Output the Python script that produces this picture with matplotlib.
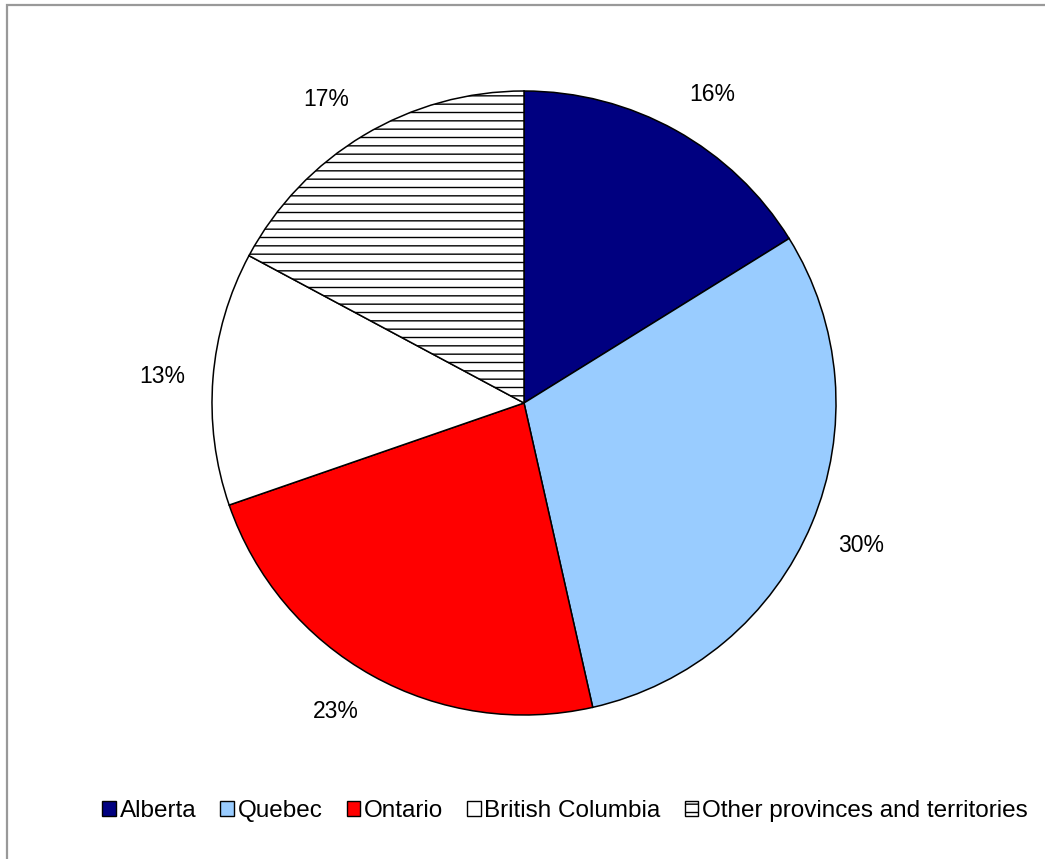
import numpy as np
import matplotlib
matplotlib.use("Agg")
import matplotlib.pyplot as plt
from matplotlib.patches import Patch, Rectangle

plt.rcParams["font.family"] = ["Liberation Sans", "DejaVu Sans"]
plt.rcParams["hatch.linewidth"] = 1.0

# share by province
provinces = ["Alberta", "Quebec", "Ontario", "British Columbia",
             "Other provinces and territories"]
shares = [16, 30, 23, 13, 17]
colors = ["#000080", "#99CCFF", "#FF0000", "#FFFFFF", "#FFFFFF"]
hatches = [None, None, None, None, "--"]

W, H = 1045, 859
fig = plt.figure(figsize=(W / 100, H / 100), dpi=100)

# pie centre (524, 403) px, radius 312 px
cx, cy, r = 524, 403, 312
ax = fig.add_axes([(cx - r) / W, (H - cy - r) / H, 2 * r / W, 2 * r / H])

wedges, _ = ax.pie(shares, colors=colors, startangle=90, counterclock=False,
                   radius=1, wedgeprops=dict(edgecolor="black", linewidth=1.1))
for w, h in zip(wedges, hatches):
    if h:
        w.set_hatch(h)
ax.set_xlim(-1, 1)
ax.set_ylim(-1, 1)
ax.axis("off")

# outside-end percentage labels
total = sum(shares)
for w, v in zip(wedges, shares):
    mid = np.deg2rad((w.theta1 + w.theta2) / 2)
    ux, uy = np.cos(mid), np.sin(mid)
    ha = "center" if abs(ux) < 0.3 else ("left" if ux > 0 else "right")
    va = "center" if abs(uy) < 0.3 else ("bottom" if uy > 0 else "top")
    d = 1.09
    ax.text(d * ux, d * uy, f"{v / total * 100:.0f}%", ha=ha, va=va,
            fontsize=16.5, color="black")

handles = [Patch(facecolor=c, edgecolor="black", hatch=h, linewidth=1.0)
           for c, h in zip(colors, hatches)]
fig.legend(handles, provinces, loc="center", bbox_to_anchor=(565 / W, 1 - 811 / H),
           ncol=5, frameon=False, fontsize=17.5, handlelength=0.55,
           handleheight=0.55, handletextpad=0.15, columnspacing=1.0)

# chart area border (left and top edges visible)
fig.add_artist(Rectangle((7 / W, -0.2), 1.2, 1.2 - 5 / H,
                         transform=fig.transFigure, fill=False,
                         edgecolor="#999999", linewidth=1.6))

fig.savefig("out.png", dpi=100)
